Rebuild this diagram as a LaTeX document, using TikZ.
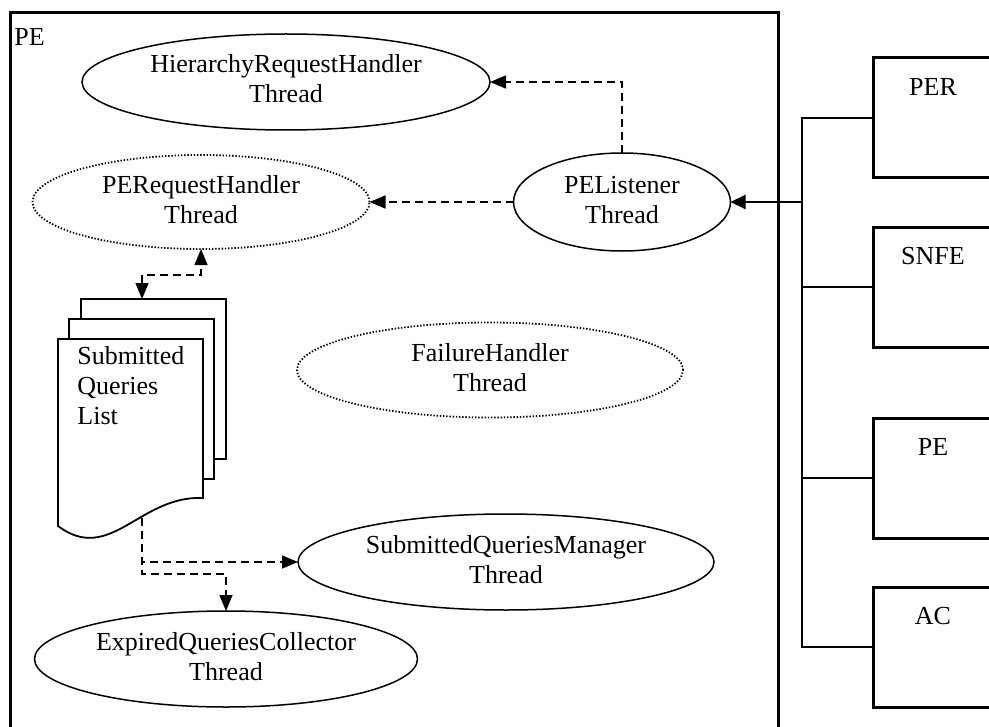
\documentclass[tikz,border=0pt]{standalone}
\usepackage{fontspec}
\setmainfont{Liberation Serif}
\usetikzlibrary{arrows.meta,shapes.geometric}
% two-line thread label that does not widen its ellipse
\newcommand{\threadname}[1]{\makebox[0pt]{\begin{tabular}{@{}c@{}}#1\\Thread\end{tabular}}}
\begin{document}
\begin{tikzpicture}[x=0.5pt,y=-0.5pt,
  every node/.style={font=\fontsize{13}{15}\selectfont},
  thread/.style={ellipse, draw, line width=0.75pt, inner sep=0pt, outer sep=0pt},
  idlethread/.style={thread, line width=0.9pt, dash pattern=on 0.7pt off 0.9pt},
  peer/.style={draw, line width=1.5pt, inner sep=0pt, outer sep=0pt,
               minimum width=60pt, minimum height=60pt, anchor=north west},
  sheet/.style={draw, line width=0.9pt, line join=miter},
  msg/.style={line width=0.75pt, dash pattern=on 4pt off 2.5pt,
              -{Triangle[length=8pt,width=6.5pt]}},
  busline/.style={line width=0.65pt},
]
\useasboundingbox (0,0) rectangle (989,727);
\clip (0,0) rectangle (989,727);

% processing element frame
\draw[line width=1.5pt] (10,745) |- (778,13) -- (778,745);
\node[anchor=north west, inner sep=0pt] (pelabel) at (14,28) {PE};

% threads
\node[thread, minimum width=204pt, minimum height=48pt] (hrh) at (286,82)
  {\threadname{HierarchyRequestHandler}};
\node[idlethread, minimum width=168.5pt, minimum height=47pt] (perh) at (201,202)
  {\threadname{PERequestHandler}};
\node[thread, minimum width=108.5pt, minimum height=49pt] (pel) at (622,202)
  {\threadname{PEListener}};
\node[idlethread, minimum width=193pt, minimum height=47.5pt] (fh) at (490,370)
  {\threadname{FailureHandler}};
\node[thread, minimum width=208pt, minimum height=48pt] (sqm) at (506,562)
  {\threadname{SubmittedQueriesManager}};
\node[thread, minimum width=191.5pt, minimum height=48pt] (eqc) at (226,659)
  {\threadname{ExpiredQueriesCollector}};

% submitted queries list (stacked documents)
\draw[sheet] (81,319) -- (81,299) -- (226,299) -- (226,459) -- (214,459);
\draw[sheet] (69,339) -- (69,319) -- (214,319) -- (214,479) -- (203,479);
\draw[sheet, fill=white] (58,339) -- (203,339) -- (203,498)
  .. controls (140,495) and (110,565) .. (58,526) -- cycle;
\node[anchor=north west, align=left, inner sep=0pt] (sqltext) at (77,346)
  {Submitted\\Queries\\List};
\coordinate (doctop) at (142,299);
\coordinate (docbot) at (142,518);

% internal messages
\draw[msg] (pel.north) |- (hrh.east);
\draw[msg] (pel.west) -- (perh.east);
\draw[msg, {Triangle[length=8pt,width=6.5pt]}-{Triangle[length=8pt,width=6.5pt]}]
  (doctop) |- ([yshift=-13pt]perh.south) -- (perh.south);
\draw[msg] (docbot) |- (sqm.west);
\draw[msg] (docbot) -- ++(0,56) -| (eqc.north);

% remote components
\node[peer] (per) at (873,58) {};
\node[peer] (snfe) at (873,227) {};
\node[peer] (pe2) at (873,418) {};
\node[peer] (ac) at (873,587) {};
\node (perlbl) at ([yshift=-14.5pt]per.north) {PER};
\node (snfelbl) at ([yshift=-14.5pt]snfe.north) {SNFE};
\node (pe2lbl) at ([yshift=-14.5pt]pe2.north) {PE};
\node (aclbl) at ([yshift=-14.5pt]ac.north) {AC};

% bus to the listener
\coordinate (bus) at (802,202);
\draw[busline] (bus) |- (per.west);
\draw[busline] (bus) |- (snfe.west);
\draw[busline] (bus) |- (pe2.west);
\draw[busline] (bus) |- (ac.west);
\draw[line width=1pt, -{Triangle[length=7.5pt,width=7pt]}] (bus) -- (pel.east);
\end{tikzpicture}
\end{document}
